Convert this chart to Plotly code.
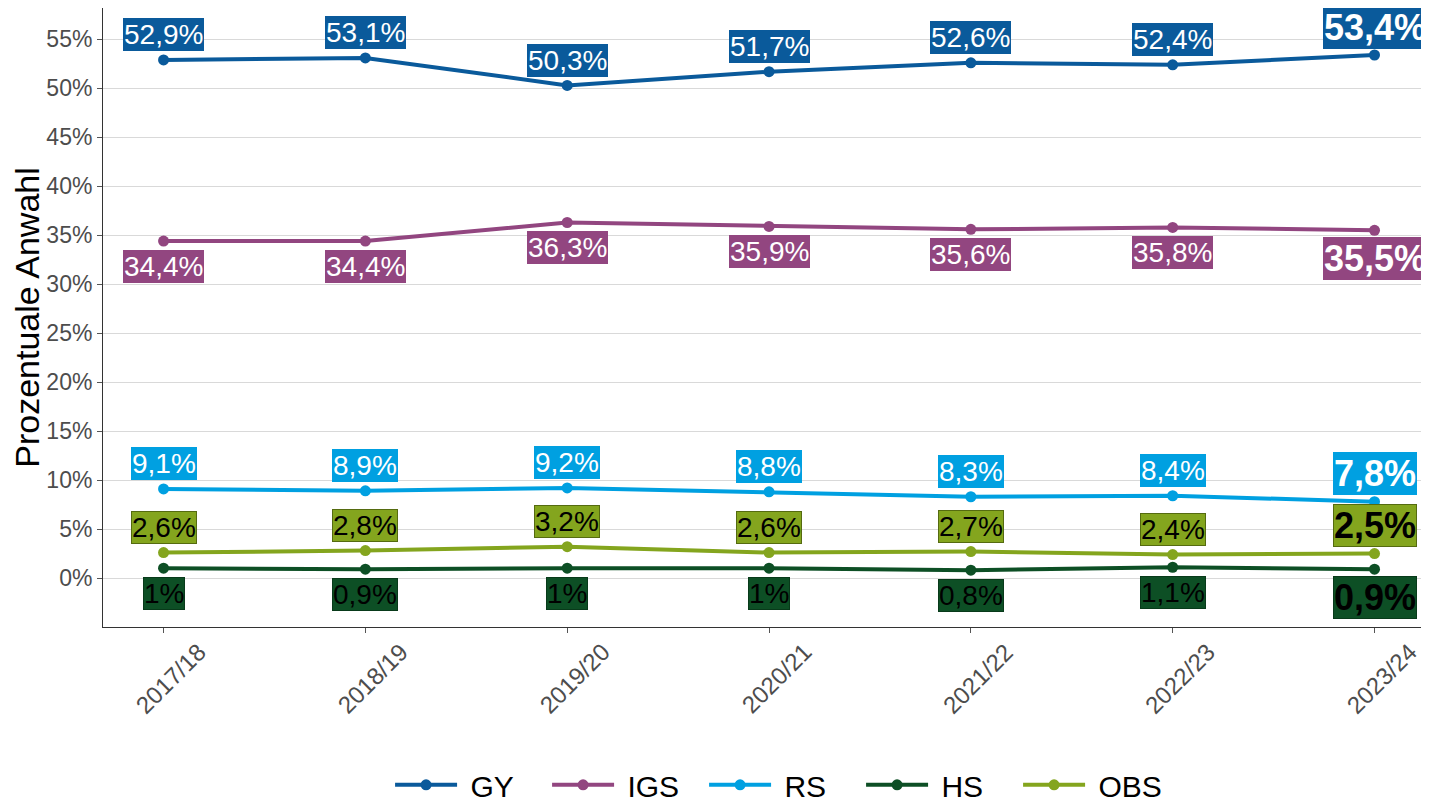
import plotly.graph_objects as go

years = ["2017/18", "2018/19", "2019/20", "2020/21", "2021/22", "2022/23", "2023/24"]
gy = [52.9, 53.1, 50.3, 51.7, 52.6, 52.4, 53.4]
igs = [34.4, 34.4, 36.3, 35.9, 35.6, 35.8, 35.5]
rs = [9.1, 8.9, 9.2, 8.8, 8.3, 8.4, 7.8]
hs = [1.0, 0.9, 1.0, 1.0, 0.8, 1.1, 0.9]
obs = [2.6, 2.8, 3.2, 2.6, 2.7, 2.4, 2.5]
y_ticks = [0, 5, 10, 15, 20, 25, 30, 35, 40, 45, 50, 55]

series = [
    # name, values, color, text color, border, label side (+1 above, -1 below)
    ("GY", gy, "#0a5a9b", "white", "#0a5a9b", 1),
    ("IGS", igs, "#924680", "white", "#924680", -1),
    ("RS", rs, "#00a0e1", "white", "#00a0e1", 1),
    ("HS", hs, "#0d4f25", "black", "#083a1a", -1),
    ("OBS", obs, "#84a51e", "black", "#556b10", 1),
]

FONT = "Liberation Sans, Arial, sans-serif"


def fmt(v):
    s = f"{v:g}".replace(".", ",")
    return s + "%"


fig = go.Figure()
annotations = []
for name, vals, col, tcol, bcol, side in series:
    fig.add_trace(go.Scatter(
        x=years, y=vals, mode="lines+markers", name="\u00a0" + name,
        line=dict(color=col, width=4),
        marker=dict(color=col, size=11),
    ))
    for i, (x, v) in enumerate(zip(years, vals)):
        last = i == len(years) - 1
        shift = 28 if last else 25
        annotations.append(dict(
            x=x, y=v, xref="x", yref="y", showarrow=False,
            text=f"<b>{fmt(v)}</b>" if last else fmt(v),
            font=dict(family=FONT, size=36 if last else 28, color=tcol),
            bgcolor=col, bordercolor=bcol, borderwidth=1, borderpad=0,
            yshift=shift if side > 0 else -shift,
        ))

# rotated category labels, centred under each tick
for yr in years:
    annotations.append(dict(
        x=yr, y=0, xref="x", yref="paper", showarrow=False,
        text=yr, textangle=-45,
        font=dict(family=FONT, size=24, color="#4d4d4d"),
        xanchor="center", yanchor="middle", xshift=7, yshift=-51,
    ))

# the page places the figure 8px from the top-left corner
fig.update_layout(
    width=1421, height=794,
    margin=dict(l=95, r=0, t=0, b=175, autoexpand=False),
    paper_bgcolor="white", plot_bgcolor="white",
    font=dict(family=FONT, color="black"),
    annotations=annotations,
    showlegend=True,
    legend=dict(
        orientation="h", x=0.2165, xanchor="left", y=-0.255, yanchor="middle",
        font=dict(family=FONT, size=30, color="black"),
        itemwidth=62, entrywidth=80, entrywidthmode="pixels",
        traceorder="normal",
    ),
)
fig.update_xaxes(
    type="category", range=[-0.3, 6.27], automargin=False,
    showgrid=False, showline=True, linecolor="#333333", linewidth=1,
    ticks="outside", ticklen=5, tickcolor="#555555",
    showticklabels=False,
    zeroline=False,
)
fig.update_yaxes(
    range=[-5, 58.2], automargin=False,
    tickvals=y_ticks, ticktext=[f"{t}%" for t in y_ticks],
    showgrid=True, gridcolor="#d9d9d9", gridwidth=1,
    showline=True, linecolor="#333333", linewidth=1,
    ticks="outside", ticklen=5, tickcolor="#555555",
    tickfont=dict(family=FONT, size=23, color="#4d4d4d"),
    title=dict(text="Prozentuale Anwahl", font=dict(family=FONT, size=34, color="black"), standoff=12),
    zeroline=False,
)

fig.write_html("out.html")
